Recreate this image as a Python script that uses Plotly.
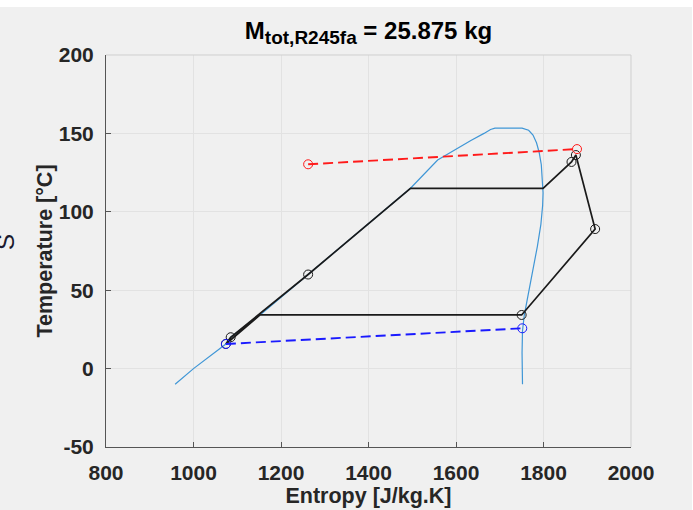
import plotly.graph_objects as go

# Saturation dome (R245fa) : entropy [J/kg.K], temperature [°C]
dome_s = [958, 1000, 1074, 1085, 1152, 1262, 1400, 1496, 1558, 1600, 1634, 1664, 1679, 1689,
          1751, 1766, 1776, 1784, 1790, 1795, 1798, 1799, 1798, 1794, 1786, 1778, 1771, 1762,
          1756, 1752, 1751, 1752]
dome_T = [-10, 0, 15.7, 20, 34.2, 60, 92.5, 115, 133, 140, 145.5, 150, 152.5, 153.4,
          153.4, 152, 149, 144, 138, 130, 120, 112, 104, 92, 78, 66, 56, 44,
          34, 24, 10, -10]

# ORC cycle path
cycle_s = [1074, 1085, 1262, 1496, 1799, 1864, 1874, 1918, 1750, 1152, 1074]
cycle_T = [15.7, 20, 60, 115, 115, 131.8, 136.2, 89, 34.2, 34.2, 15.7]

# Cycle state points (markers)
state_s = [1074, 1085, 1262, 1864, 1874, 1918, 1750]
state_T = [15.7, 20, 60, 131.8, 136.2, 89, 34.2]

# Heat source (red) and heat sink (blue)
hot_s = [1262, 1876.6]
hot_T = [130.3, 140]
cold_s = [1074, 1751.5]
cold_T = [15.7, 25.7]

x_ticks = [800, 1000, 1200, 1400, 1600, 1800, 2000]
x_ticktext = ["800", "1000", "1200", "1400", "1600", "1800", "2000"]
y_ticks = [-50, 0, 50, 100, 150, 200]
y_ticktext = ["-50", "0", "50", "100", "150", "200"]

FONT = "Liberation Sans, Arial, sans-serif"

fig = go.Figure()
fig.add_trace(go.Scatter(x=dome_s, y=dome_T, mode="lines",
                         line=dict(color="#3f96d6", width=1.2), hoverinfo="skip"))
fig.add_trace(go.Scatter(x=cycle_s, y=cycle_T, mode="lines",
                         line=dict(color="#1a1a1a", width=1.7), hoverinfo="skip"))
fig.add_trace(go.Scatter(x=state_s, y=state_T, mode="markers",
                         marker=dict(symbol="circle-open", size=9, color="#1a1a1a",
                                     line=dict(width=1, color="#1a1a1a")), hoverinfo="skip"))
fig.add_trace(go.Scatter(x=hot_s, y=hot_T, mode="lines+markers",
                         line=dict(color="#ff1a1a", width=1.9, dash="10px,5px"),
                         marker=dict(symbol="circle-open", size=9, color="#ff1a1a",
                                     line=dict(width=1, color="#ff1a1a")), hoverinfo="skip"))
fig.add_trace(go.Scatter(x=cold_s, y=cold_T, mode="lines+markers",
                         line=dict(color="#1a1aff", width=1.9, dash="10px,5px"),
                         marker=dict(symbol="circle-open", size=9, color="#1a1aff",
                                     line=dict(width=1, color="#1a1aff")), hoverinfo="skip"))

W, H = 693, 510
L, R, T, B = 106, 62, 55, 63
pw, ph = W - L - R, H - T - B

axis_common = dict(showgrid=True, gridcolor="#e2e2e2", gridwidth=1, zeroline=False,
                   showline=True, linecolor="#555555", linewidth=1, automargin=False,
                   ticks="inside", ticklen=5, tickcolor="#555555",
                   tickfont=dict(family=FONT, size=21, color="#262626", weight="bold"))

fig.update_layout(
    width=W, height=H,
    margin=dict(l=L, r=R, t=T, b=B),
    paper_bgcolor="white",
    plot_bgcolor="white",
    showlegend=False,
    title=dict(text="<b>M<sub><span style='font-size:19px'>tot,R245fa</span></sub> = 25.875 kg</b>",
               x=(L + pw / 2) / W, xanchor="center",
               y=1 - 31 / H, yanchor="middle", yref="container",
               font=dict(family=FONT, size=24, color="#000000")),
    xaxis=dict(range=[800, 2000], tickvals=x_ticks, ticktext=x_ticktext, ticklabelstandoff=7,
               title=dict(text="<b>Entropy [J/kg.K]</b>", standoff=4,
                          font=dict(family=FONT, size=21.5, color="#262626")),
               **axis_common),
    yaxis=dict(range=[-50, 200], tickvals=y_ticks, ticktext=y_ticktext, ticklabelstandoff=7,
               title=dict(text="<b>Temperature [°C]</b>", standoff=0,
                          font=dict(family=FONT, size=21.5, color="#262626")),
               **axis_common),
    shapes=[
        # gray figure background (white strip at the top)
        dict(type="rect", xref="paper", yref="paper", layer="below",
             x0=-L / pw, x1=(W - 1 - L) / pw, y0=-B / ph, y1=1 + (T - 7) / ph,
             fillcolor="#f0f0f0", line=dict(width=0)),
        # top/right box edges
        dict(type="path", xref="paper", yref="paper", layer="above",
             path="M 0 1 L 1 1 L 1 0", line=dict(color="#cfcfcf", width=1)),
    ],
    annotations=[
        dict(text="S", xref="paper", yref="paper", x=(5 - L) / pw, y=(H - B - 242) / ph,
             xanchor="center", yanchor="middle", textangle=-90, showarrow=False,
             font=dict(family=FONT, size=24, color="#1a1a2e")),
    ],
)

fig.write_html("out.html")
